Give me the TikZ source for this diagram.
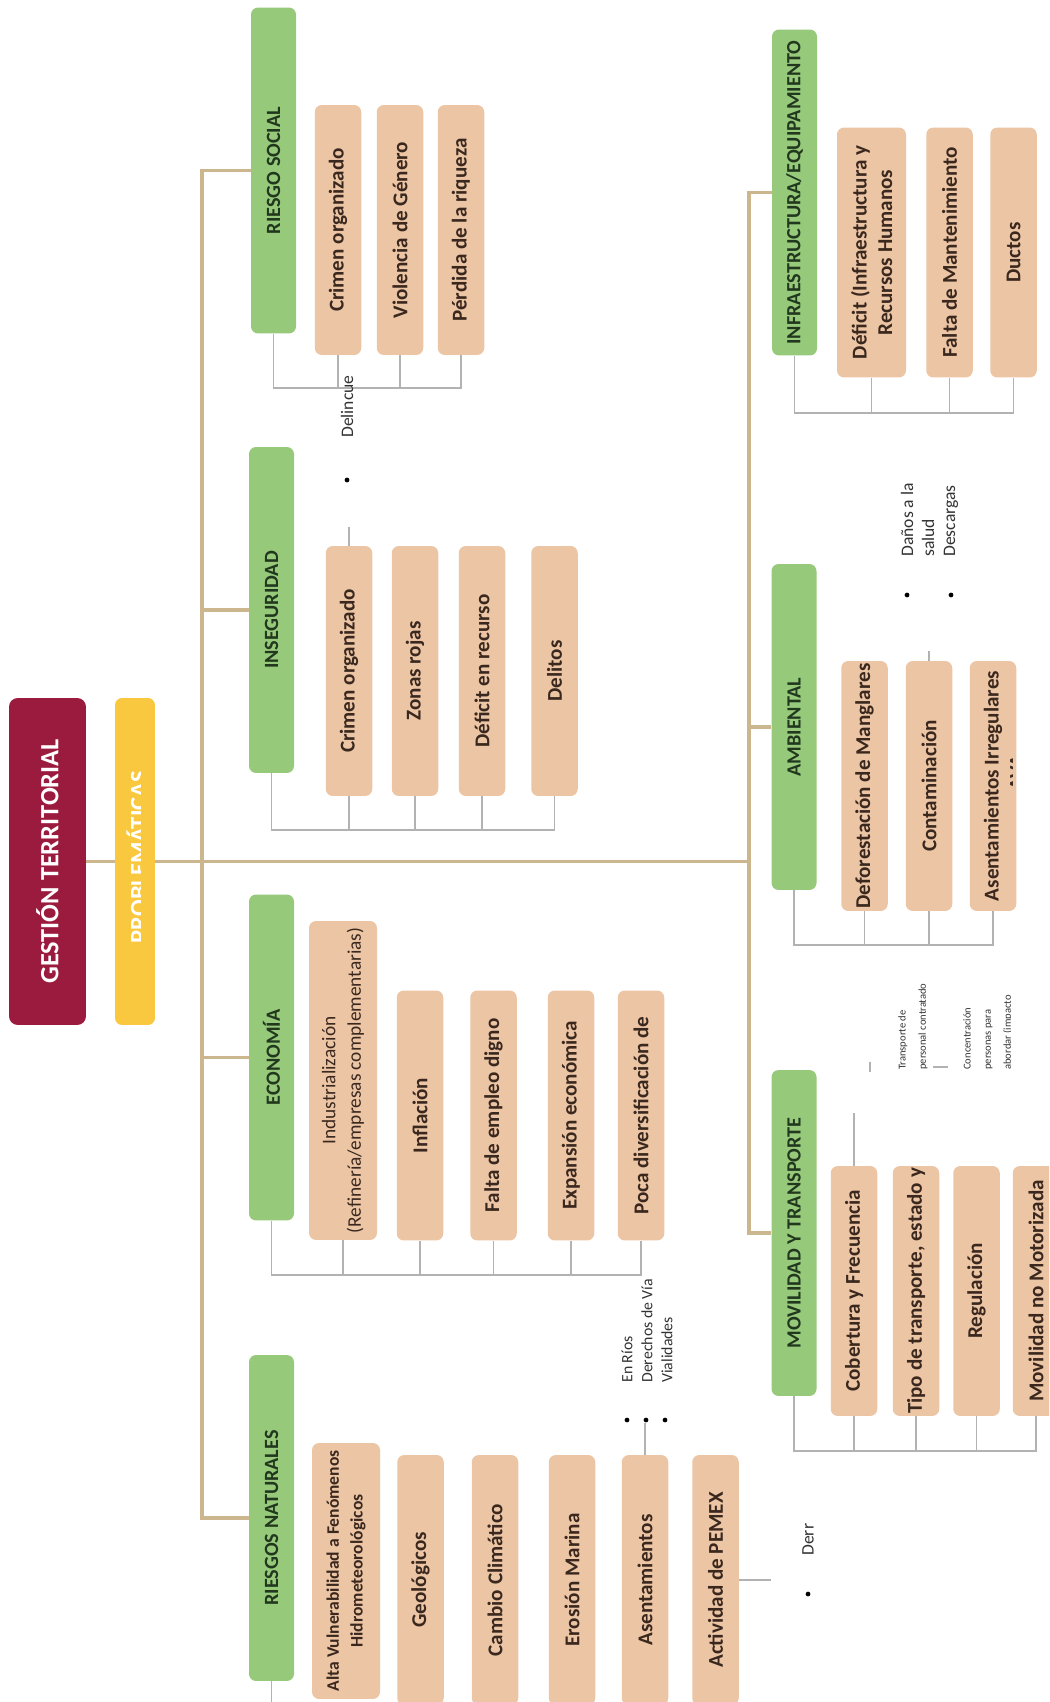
\documentclass[tikz,border=0pt]{standalone}
\usepackage{fontspec}
\setmainfont{Carlito}
\definecolor{gestred}{RGB}{155,27,62}
\definecolor{probyellow}{RGB}{250,200,62}
\definecolor{groupgreen}{RGB}{150,201,122}
\definecolor{itempeach}{RGB}{236,197,165}
\definecolor{trunktan}{RGB}{204,182,142}
\definecolor{grouptext}{RGB}{33,56,30}
\definecolor{itemtext}{RGB}{58,40,30}
\tikzset{
  rootbox/.style={rotate=90,fill=gestred,rounded corners=5pt,text=white,inner sep=0pt,
    minimum width=6.54cm,minimum height=1.54cm,font=\fontsize{15}{18}\selectfont\bfseries},
  probbox/.style={rotate=90,fill=probyellow,rounded corners=4pt,inner sep=0pt,
    minimum width=6.54cm,minimum height=0.8cm},
  probtext/.style={rotate=90,anchor=base,inner sep=0pt,text=white,
    font=\fontsize{14}{16}\selectfont\bfseries},
  groupbox/.style={rotate=90,fill=groupgreen,rounded corners=4pt,text=grouptext,inner sep=1pt,
    minimum width=6.52cm,minimum height=0.9cm,font=\fontsize{11.5}{14}\selectfont\bfseries},
  itembox/.style={rotate=90,fill=itempeach,rounded corners=4pt,text=itemtext,inner sep=0.5pt,
    align=center,minimum width=5cm,minimum height=0.93cm,
    font=\fontsize{12}{14.5}\selectfont\bfseries},
  notetext/.style={rotate=90,anchor=west,inner sep=0pt,align=left,text=black!80,
    font=\fontsize{10}{12}\selectfont},
  dotmark/.style={circle,fill=black,inner sep=0pt,minimum size=0.095cm},
  trunk/.style={draw=trunktan,line width=2pt},
  bracket/.style={draw=black!30,line width=0.6pt}
}
\begin{document}
\begin{tikzpicture}[x=0.02cm,y=-0.02cm]
  \clip (0,0) rectangle (1049,1702);
  \fill[white] (0,0) rectangle (1049,1702);

  % raíz y problemáticas
  \node[rootbox] (gestion) at (47.5,861.5) {GESTIÓN TERRITORIAL};
  \node[probbox] (problem) at (135,861.5) {};
  \begin{scope}
    \clip (115,698) rectangle (140.5,1025);
    \node[probtext] (problabel) at (147,857) {PROBLEMÁTICAS};
  \end{scope}

  % ejes temáticos
  \node[groupbox] (rsocial) at (273.5,170.5) {RIESGO SOCIAL};
  \node[groupbox] (inseg) at (271.5,610) {INSEGURIDAD};
  \node[groupbox] (econ) at (271.5,1057.5) {ECONOMÍA};
  \node[groupbox] (rnat) at (271.5,1518) {RIESGOS NATURALES};
  \node[groupbox] (infra) at (794.5,192.5) {INFRAESTRUCTURA/EQUIPAMIENTO};
  \node[groupbox] (ambiental) at (794,727) {AMBIENTAL};
  \node[groupbox] (movilidad) at (794,1233) {MOVILIDAD Y TRANSPORTE};

  \coordinate (lhub) at (202,861.5);
  \coordinate (rhub) at (749,861.5);
  \draw[trunk] (gestion.south) -- (problem.north);
  \draw[trunk] (problem.south) -- (rhub);
  \foreach \g in {rsocial,inseg,econ,rnat} \draw[trunk] (\g.north) -| (lhub);
  \foreach \g in {infra,ambiental,movilidad} \draw[trunk] (\g.north) -| (rhub);

  % riesgo social
  \node[itembox] (rs1) at (338,230) {Crimen organizado};
  \node[itembox] (rs2) at (400,230) {Violencia de Género};
  \node[itembox] (rs3) at (461,230) {Pérdida de la riqueza};
  \coordinate (rsbar) at (273.5,388);
  \draw[bracket] (rsocial.west) -- (rsbar) -| (rs3.west);
  \foreach \k in {rs1,rs2} \draw[bracket] (\k.west) -- (\k.west |- rsbar);
  \node[notetext] (delinc) at (347,438) {Delincue};
  \node[dotmark] (delincdot) at (347,480) {};

  % inseguridad
  \node[itembox] (in1) at (349,671) {Crimen organizado};
  \node[itembox] (in2) at (415,671) {Zonas rojas};
  \node[itembox] (in3) at (482,671) {Déficit en recurso};
  \node[itembox] (in4) at (554.5,671) {Delitos};
  \coordinate (inbar) at (271.5,830);
  \draw[bracket] (inseg.west) -- (inbar) -| (in4.west);
  \foreach \k in {in1,in2,in3} \draw[bracket] (\k.west) -- (\k.west |- inbar);
  \coordinate (in1up) at (349,527);
  \draw[bracket] (in1.east) -- (in1up);

  % economía
  \node[itembox,minimum width=6.38cm,minimum height=1.36cm,
        font=\fontsize{11}{14.5}\selectfont] (ec1) at (343,1080.5)
        {Industrialización\\(Refinería/empresas complementarias)};
  \node[itembox] (ec2) at (420,1115.5) {Inflación};
  \node[itembox] (ec3) at (493.5,1115.5) {Falta de empleo digno};
  \node[itembox] (ec4) at (571,1115.5) {Expansión económica};
  \node[itembox] (ec5) at (641,1115.5) {Poca diversificación de};
  \coordinate (ecbar) at (271.5,1275);
  \draw[bracket] (econ.west) -- (ecbar) -| (ec5.west);
  \foreach \k in {ec1,ec2,ec3,ec4} \draw[bracket] (\k.west) -- (\k.west |- ecbar);

  % riesgos naturales
  \node[itembox,minimum width=5.12cm,minimum height=1.36cm,
        font=\fontsize{10}{13.5}\selectfont\bfseries] (rn1) at (346,1571)
        {Alta Vulnerabilidad a Fenómenos\\Hidrometeorológicos};
  \node[itembox] (rn2) at (420.5,1580) {Geológicos};
  \node[itembox] (rn3) at (495,1580) {Cambio Climático};
  \node[itembox] (rn4) at (572,1580) {Erosión Marina};
  \node[itembox] (rn5) at (645,1580) {Asentamientos};
  \node[itembox] (rn6) at (715.5,1580) {Actividad de PEMEX};
  \coordinate (rnend) at (271.5,1712);
  \draw[bracket] (rnat.west) -- (rnend);
  \coordinate (rn5up) at (645,1423);
  \draw[bracket] (rn5.east) -- (rn5up);
  \node[dotmark] (rndot1) at (627,1420) {};
  \node[dotmark] (rndot2) at (646,1420) {};
  \node[dotmark] (rndot3) at (665,1420) {};
  \node[notetext,font=\fontsize{9}{11}\selectfont] (rnnote1) at (627,1383) {En Ríos};
  \node[notetext,font=\fontsize{9}{11}\selectfont] (rnnote2) at (647,1383) {Derechos de Vía};
  \node[notetext,font=\fontsize{9}{11}\selectfont] (rnnote3) at (667,1383) {Vialidades};
  \coordinate (pemexend) at (771,1580);
  \draw[bracket] (rn6.south) -- (pemexend);
  \node[dotmark] (derrdot) at (808,1594) {};
  \node[notetext] (derr) at (808,1556) {Derr};

  % infraestructura
  \node[itembox,minimum height=1.38cm] (if1) at (871.5,252.5)
        {Déficit (Infraestructura y\\Recursos Humanos};
  \node[itembox] (if2) at (949.5,252.5) {Falta de Mantenimiento};
  \node[itembox] (if3) at (1013.5,252.5) {Ductos};
  \coordinate (ifbar) at (794.5,413);
  \draw[bracket] (infra.west) -- (ifbar) -| (if3.west);
  \foreach \k in {if1,if2} \draw[bracket] (\k.west) -- (\k.west |- ifbar);

  % ambiental
  \node[itembox] (am1) at (864.5,786) {Deforestación de Manglares};
  \node[itembox] (am2) at (929,786) {Contaminación};
  \node[itembox] (am3) at (993,786) {Asentamientos Irregulares};
  \begin{scope}
    \clip (970,662) rectangle (1012,910);
    \node[rotate=90,inner sep=0pt,text=itemtext,font=\fontsize{12}{14.5}\selectfont\bfseries]
      (am3b) at (1017,786) {en AVA};
  \end{scope}
  \coordinate (ambar) at (794,945);
  \draw[bracket] (ambiental.west) -- (ambar) -| (am3.west);
  \foreach \k in {am1,am2} \draw[bracket] (\k.west) -- (\k.west |- ambar);
  \coordinate (am2up) at (929,651);
  \draw[bracket] (am2.east) -- (am2up);
  \node[dotmark] (amdot1) at (907,595) {};
  \node[dotmark] (amdot2) at (951,595) {};
  \node[notetext] (amnote1) at (917.5,557) {Daños a la\\salud};
  \node[notetext] (amnote2) at (951,557) {Descargas};

  % movilidad
  \node[itembox] (mv1) at (854,1291) {Cobertura y Frecuencia};
  \node[itembox] (mv2) at (916,1291) {Tipo de transporte, estado y};
  \node[itembox] (mv3) at (976.5,1291) {Regulación};
  \node[itembox] (mv4) at (1036,1291) {Movilidad no Motorizada};
  \coordinate (mvbar) at (794,1451);
  \draw[bracket] (movilidad.west) -- (mvbar) -| (mv4.west);
  \foreach \k in {mv1,mv2,mv3} \draw[bracket] (\k.west) -- (\k.west |- mvbar);
  \coordinate (mv1up) at (854,1113);
  \draw[bracket] (mv1.east) -- (mv1up);
  \node[notetext,font=\fontsize{6}{11.5}\selectfont] (mvnote1) at (913,1070)
        {Transporte de\\personal contratado};
  \begin{scope}
    \clip (960,980) rectangle (1010,1080);
    \node[notetext,font=\fontsize{6}{11.5}\selectfont] (mvnote2) at (988,1070)
          {Concentración\\personas para\\abordar (impacto};
  \end{scope}
  \coordinate (mvtickA) at (870,1062);
  \coordinate (mvtickB) at (870,1072);
  \draw[bracket] (mvtickA) -- (mvtickB);
  \coordinate (mvtickC) at (933,1067);
  \coordinate (mvtickD) at (948,1067);
  \draw[bracket] (mvtickC) -- (mvtickD);
\end{tikzpicture}
\end{document}
